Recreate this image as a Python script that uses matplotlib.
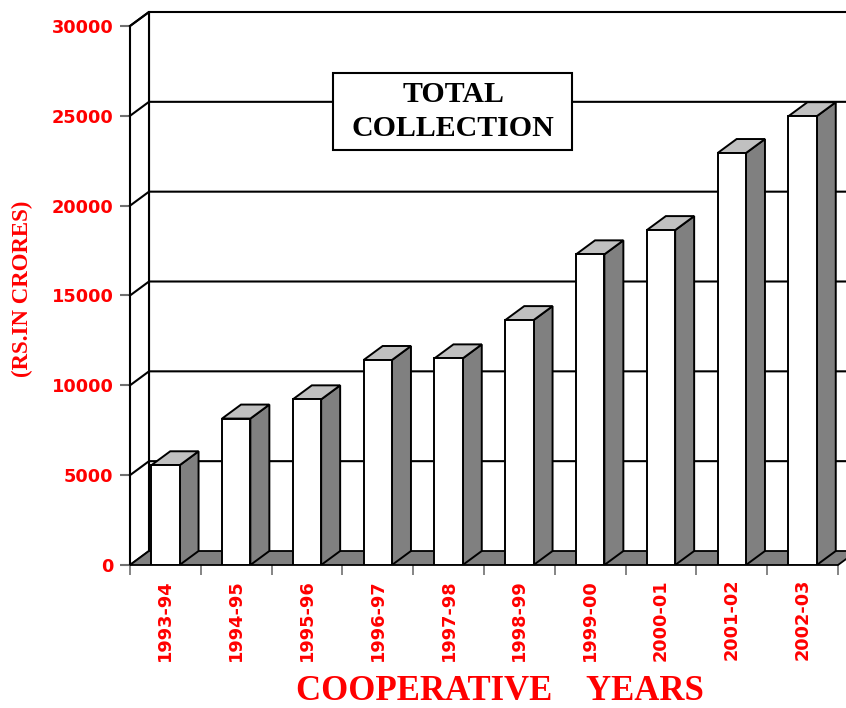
import matplotlib
matplotlib.use("Agg")
import matplotlib.pyplot as plt
from matplotlib.patches import Polygon, Rectangle

# data (Rs. in crores)
years = ["1993-94", "1994-95", "1995-96", "1996-97", "1997-98",
         "1998-99", "1999-00", "2000-01", "2001-02", "2002-03"]
collection = [5550, 8150, 9220, 11410, 11500, 13630, 17290, 18640, 22930, 24980]
yticks = [0, 5000, 10000, 15000, 20000, 25000, 30000]

W, H = 846, 708
fig = plt.figure(figsize=(W / 100, H / 100), dpi=100)
ax = fig.add_axes([130 / W, (H - 565) / H, 708 / W, 539 / H])
ax.set_xlim(-0.5, len(years) - 0.5)
ax.set_ylim(0, 30000)
for s in ax.spines.values():
    s.set_visible(False)

# depth of the pseudo 3d box, in data units
dx = 19 / 70.8
dy = 14 / 539 * 30000
x0 = -0.5
x1 = len(years) - 0.5
ymax = 30000
lw = 1.5

# back wall
ax.add_patch(Polygon([(x0 + dx, dy), (x1 + dx + 1, dy), (x1 + dx + 1, ymax + dy),
                      (x0 + dx, ymax + dy)], closed=True, facecolor="white",
                     edgecolor="none", clip_on=False, zorder=1))
ax.plot([x0 + dx, x0 + dx], [dy, ymax + dy], color="black", lw=lw, clip_on=False, zorder=2)

# left wall
ax.add_patch(Polygon([(x0, 0), (x0, ymax), (x0 + dx, ymax + dy), (x0 + dx, dy)],
                     closed=True, facecolor="white", edgecolor="black", lw=lw,
                     clip_on=False, zorder=2))

# gridlines on walls
for v in yticks[1:]:
    ax.plot([x0, x0 + dx, x1 + dx + 1], [v, v + dy, v + dy], color="black", lw=lw,
            clip_on=False, zorder=2)

# floor
ax.add_patch(Polygon([(x0, 0), (x1, 0), (x1 + dx, dy), (x0 + dx, dy)], closed=True,
                     facecolor="#808080", edgecolor="black", lw=1.3, clip_on=False, zorder=3))

# bars
w = 0.4
for i, v in enumerate(collection):
    l, r = i - w / 2, i + w / 2
    ax.add_patch(Polygon([(r, 0), (r + dx, dy), (r + dx, v + dy), (r, v)], closed=True,
                         facecolor="#808080", edgecolor="black", lw=1.4, zorder=4))
    ax.add_patch(Polygon([(l, v), (r, v), (r + dx, v + dy), (l + dx, v + dy)], closed=True,
                         facecolor="#c0c0c0", edgecolor="black", lw=1.4, zorder=4))
    ax.add_patch(Rectangle((l, 0), w, v, facecolor="white", edgecolor="black",
                           lw=1.4, zorder=5))

# ticks
ax.set_yticks(yticks)
ax.set_yticklabels([str(t) for t in yticks], color="red", fontweight="bold", fontsize=12.8)
ax.tick_params(axis="y", length=7, width=1.5, color="#707070", pad=5)
ax.set_xticks(range(len(years)))
ax.set_xticklabels(years, rotation=90, color="red", fontweight="bold", fontsize=12.8)
ax.set_xticks([i - 0.5 for i in range(len(years) + 1)], minor=True)
ax.tick_params(axis="x", which="major", length=0, pad=10)
ax.tick_params(axis="x", which="minor", length=7, width=1.2, color="#707070")

ax.set_xlabel("COOPERATIVE    YEARS", family="Liberation Serif", fontweight="bold",
              fontsize=25, color="red", va="center")
ax.xaxis.set_label_coords((500 - 130) / 708, -(692 - 565) / 539)
ax.set_ylabel("(RS.IN CRORES)", family="Liberation Serif", fontweight="bold",
              fontsize=16.5, color="red", va="center")
ax.yaxis.set_label_coords((22 - 130) / 708, (565 - 289) / 539)

# title box
fig.patches.append(Rectangle((333 / W, 1 - 150 / H), 239 / W, 77 / H,
                             transform=fig.transFigure, facecolor="white",
                             edgecolor="black", lw=1.5, zorder=10))
fig.text(453 / W, 1 - 111.5 / H, "TOTAL\nCOLLECTION", ha="center", va="center",
         family="Liberation Serif", fontweight="bold", fontsize=21.5, linespacing=1.3,
         zorder=11)

fig.savefig("out.png", dpi=100)
